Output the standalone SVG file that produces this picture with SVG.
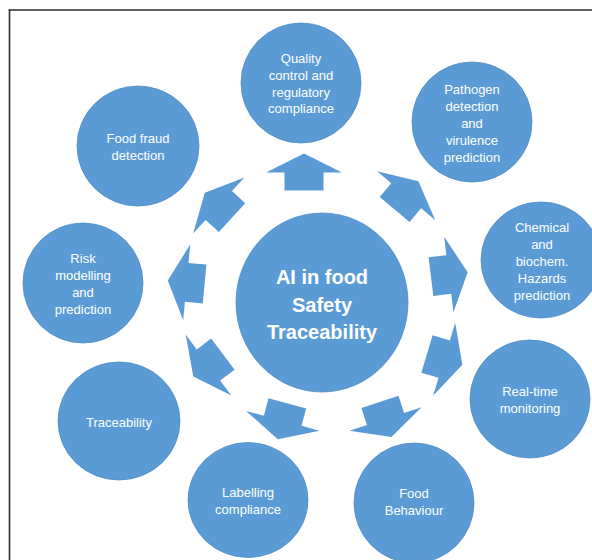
<svg xmlns="http://www.w3.org/2000/svg" xmlns:xlink="http://www.w3.org/1999/xlink" width="592" height="560" viewBox="0 0 592 560">
<style>
.node{fill:#5b9bd5;stroke:#4f8bc4;stroke-width:0.8}
.t{font-family:"Liberation Sans",Arial,sans-serif;font-size:13px;fill:#ffffff;text-anchor:middle}
.tc{font-family:"Liberation Sans",Arial,sans-serif;font-size:20px;font-weight:bold;fill:#ffffff;text-anchor:middle}
.arr{fill:#5b9bd5}
.frame{stroke:#2b2b2b;stroke-width:1.6;fill:none}
</style>
<defs>
<polygon id="blockArrow" points="0,-19 38,0 19.5,0 19.5,18 -19.5,18 -19.5,0 -38,0"/>
</defs>
<rect width="592" height="560" fill="#ffffff"/>
<g id="frame">
<line class="frame" x1="8.7" y1="10" x2="592" y2="10"/>
<line class="frame" x1="9.5" y1="9.2" x2="9.5" y2="560"/>
</g>
<g id="connectors">
<use href="#blockArrow" class="arr" transform="translate(304,172.5) rotate(0)"/>
<use href="#blockArrow" class="arr" transform="translate(406.2,195.8) rotate(40)"/>
<use href="#blockArrow" class="arr" transform="translate(448.8,274.5) rotate(83)"/>
<use href="#blockArrow" class="arr" transform="translate(444.2,359.2) rotate(106.8)"/>
<use href="#blockArrow" class="arr" transform="translate(385.5,419) rotate(162)"/>
<use href="#blockArrow" class="arr" transform="translate(282.7,420.8) rotate(195)"/>
<use href="#blockArrow" class="arr" transform="translate(208.5,365) rotate(233.1)"/>
<use href="#blockArrow" class="arr" transform="translate(186.7,282.3) rotate(275.3)"/>
<use href="#blockArrow" class="arr" transform="translate(218.8,205.5) rotate(312.5)"/>
</g>
<g id="center">
<ellipse class="node" cx="322" cy="302.5" rx="86" ry="89.5"/>
<text class="tc" x="322" y="284">AI in food</text>
<text class="tc" x="322" y="311.5">Safety</text>
<text class="tc" x="322" y="339">Traceability</text>
</g>
<g id="quality">
<circle class="node" cx="301" cy="83" r="60"/>
<text class="t" x="301" y="62.5">Quality</text>
<text class="t" x="301" y="79.5">control and</text>
<text class="t" x="301" y="96.5">regulatory</text>
<text class="t" x="301" y="113">compliance</text>
</g>
<g id="pathogen">
<circle class="node" cx="472" cy="122" r="60"/>
<text class="t" x="472" y="93.5">Pathogen</text>
<text class="t" x="472" y="110.5">detection</text>
<text class="t" x="472" y="127.5">and</text>
<text class="t" x="472" y="144.5">virulence</text>
<text class="t" x="472" y="161.5">prediction</text>
</g>
<g id="chemical">
<ellipse class="node" cx="541" cy="260" rx="60" ry="58"/>
<text class="t" x="542" y="231.5">Chemical</text>
<text class="t" x="542" y="248.5">and</text>
<text class="t" x="542" y="265.5">biochem.</text>
<text class="t" x="542" y="282.5">Hazards</text>
<text class="t" x="542" y="299.5">prediction</text>
</g>
<g id="realtime">
<ellipse class="node" cx="530" cy="399" rx="60" ry="59"/>
<text class="t" x="530" y="395.5">Real-time</text>
<text class="t" x="530" y="412.5">monitoring</text>
</g>
<g id="behaviour">
<circle class="node" cx="414" cy="503" r="60"/>
<text class="t" x="414" y="497.5">Food</text>
<text class="t" x="414" y="514.5">Behaviour</text>
</g>
<g id="labelling">
<ellipse class="node" cx="248" cy="500" rx="60" ry="57.5"/>
<text class="t" x="248" y="496.5">Labelling</text>
<text class="t" x="248" y="513.5">compliance</text>
</g>
<g id="traceability">
<ellipse class="node" cx="119" cy="421" rx="61" ry="59"/>
<text class="t" x="119" y="426.5">Traceability</text>
</g>
<g id="risk">
<circle class="node" cx="83" cy="283" r="60"/>
<text class="t" x="83" y="262.5">Risk</text>
<text class="t" x="83" y="279.5">modelling</text>
<text class="t" x="83" y="296.5">and</text>
<text class="t" x="83" y="313.5">prediction</text>
</g>
<g id="fraud">
<ellipse class="node" cx="138" cy="146" rx="61" ry="60"/>
<text class="t" x="138" y="142.5">Food fraud</text>
<text class="t" x="138" y="159.5">detection</text>
</g>
</svg>
